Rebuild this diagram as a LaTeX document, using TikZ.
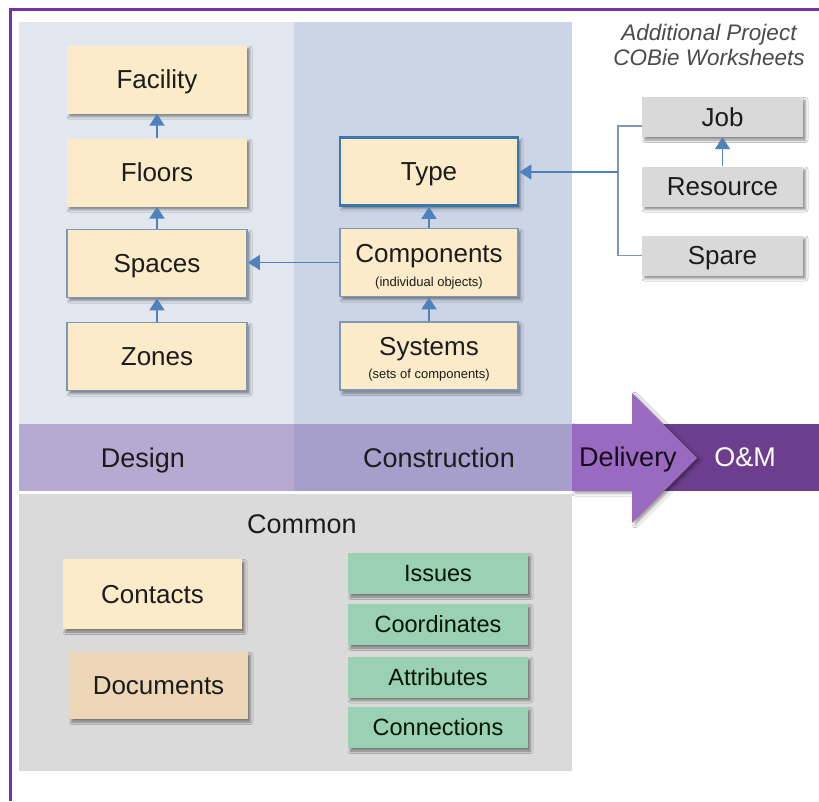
\documentclass[tikz,border=0pt]{standalone}
\usepackage{fontspec}
\setmainfont{Liberation Sans}
\usetikzlibrary{arrows.meta,shadows.blur}

\definecolor{framepurple}{HTML}{7432A8}
\definecolor{designpanel}{HTML}{E1E6EF}
\definecolor{constrpanel}{HTML}{CCD5E5}
\definecolor{designband}{HTML}{B6AAD2}
\definecolor{constrband}{HTML}{A79FCB}
\definecolor{deliverypurple}{HTML}{9A69C0}
\definecolor{ompurple}{HTML}{6E3E8E}
\definecolor{commonpanel}{HTML}{DADADA}
\definecolor{creamfill}{HTML}{FCEBC9}
\definecolor{tanfill}{HTML}{EDD7B7}
\definecolor{greyfill}{HTML}{D9D9D9}
\definecolor{greenfill}{HTML}{9AD0B4}
\definecolor{edgeblue}{HTML}{7F97B6}
\definecolor{typeblue}{HTML}{3B76B0}
\definecolor{arrowblue}{HTML}{4F81BD}
\definecolor{inkdark}{HTML}{1C1C1C}
\definecolor{notegrey}{HTML}{4A4A4A}

\newcommand{\subnotefont}{\fontsize{13}{14}\selectfont}

\tikzset{
  boxbase/.style={rectangle, inner sep=0pt, align=center, text=inkdark,
    font=\fontsize{26}{28}\selectfont,
    blur shadow={shadow xshift=2.5pt, shadow yshift=-3pt,
      shadow blur radius=2.5pt, shadow opacity=45}},
  capfit/.style={text height=#1, text depth=0pt},
  creambox/.style={boxbase, fill=creamfill, minimum width=180pt, minimum height=68pt},
  edged/.style={draw=edgeblue, line width=1.8pt},
  typeedge/.style={draw=typeblue, line width=2.8pt},
  greybox/.style={boxbase, capfit=18.6pt, fill=greyfill, minimum width=161pt, minimum height=40pt},
  greenbox/.style={boxbase, capfit=16.8pt, fill=greenfill, minimum width=180pt, minimum height=41pt,
    font=\fontsize{23.5}{25}\selectfont, text=black!85!green!60!black},
  bandlabel/.style={font=\fontsize{27}{29}\selectfont, text=inkdark, capfit=19.3pt, inner sep=0pt},
  conn/.style={draw=arrowblue, line width=1.8pt, -{Triangle[width=15pt,length=12pt]}},
  wire/.style={draw=edgeblue, line width=1.6pt},
}

\begin{document}
\begin{tikzpicture}[x=1pt, y=-1pt]
\useasboundingbox (0,0) rectangle (819,801);
\fill[white] (0,0) rectangle (819,801);

% phase panels
\fill[designpanel] (19,22) rectangle (294,424);
\fill[constrpanel] (294,22) rectangle (572,424);

% phase band
\fill[designband] (19,424) rectangle (294,491);
\fill[constrband] (294,424) rectangle (572,491);
\fill[ompurple] (640,424) rectangle (819,491);
\fill[deliverypurple, blur shadow={shadow xshift=3pt, shadow yshift=-2pt,
      shadow blur radius=3pt, shadow opacity=40}]
  (572,424) -- (632,424) -- (632,393) -- (697,458) -- (632,523) -- (632,491) -- (572,491) -- cycle;

% common panel
\fill[commonpanel] (19,494) rectangle (572,771);

% frame
\draw[framepurple, line width=3pt] (10,801) -- (10,9) -- (819,9);

% band labels
\node[bandlabel] (design) at (143,458) {Design};
\node[bandlabel] (constr) at (439,458) {Construction};
\node[bandlabel, text=black!80!ompurple] (deliv) at (628,457) {Delivery};
\node[bandlabel, text=white] (om) at (745,457) {O\&M};

% design column
\node[creambox, capfit=18.6pt] (facility) at (157,79.5) {Facility};
\node[creambox, capfit=18.6pt] (floors) at (157,172.5) {Floors};
\node[creambox, capfit=18.6pt, edged] (spaces) at (157,263.5) {Spaces};
\node[creambox, capfit=18.6pt, edged] (zones) at (157,356.5) {Zones};

% construction column
\node[creambox, capfit=18.6pt, typeedge, minimum width=178pt] (type) at (429,171.5) {Type};
\node[creambox, edged, minimum width=178pt] (comp) at (429,262.5)
  {\rule{0pt}{26pt}Components\\[-4pt]{\subnotefont (individual objects)}};
\node[creambox, edged, minimum width=178pt] (sys) at (429,356)
  {\rule{0pt}{25pt}Systems\\[-5pt]{\subnotefont (sets of components)}};

% additional worksheets
\node[font=\fontsize{22.5}{25}\selectfont\itshape, text=notegrey, align=center]
  (addl) at (709,44.5) {Additional Project\\COBie Worksheets};
\node[greybox] (job) at (722.5,117) {Job};
\node[greybox] (resource) at (722.5,186.5) {Resource};
\node[greybox] (spare) at (722.5,255.5) {Spare};

% common worksheets
\node[bandlabel] (common) at (302,523.5) {Common};
\node[boxbase, capfit=18.6pt, fill=creamfill, minimum width=179pt, minimum height=70pt] (contacts) at (152.5,594) {Contacts};
\node[boxbase, capfit=18.6pt, fill=tanfill, minimum width=179pt, minimum height=67pt] (documents) at (158.5,685.5) {Documents};
\node[greenbox] (issues) at (438,573.5) {Issues};
\node[greenbox] (coords) at (438,624.5) {Coordinates};
\node[greenbox] (attrs) at (438,677) {Attributes};
\node[greenbox] (conns) at (438,727.5) {Connections};

% connectors
\draw[conn] (floors.north) -- (facility.south);
\draw[conn] (spaces.north) -- (floors.south);
\draw[conn] (zones.north) -- (spaces.south);
\draw[conn] (comp.north) -- (type.south);
\draw[conn] (sys.north) -- (comp.south);
\draw[conn] (comp.west) -- (comp.west -| spaces.east);
\draw[conn, line width=1.4pt] (resource.north) -- (job.south);

\coordinate (bt) at (618,126);
\coordinate (bm) at (618,172);
\draw[wire] (job.west |- bt) -- (bt) -- (spare.west -| bt) -- (spare.west);
\draw[conn] (bm) -- (type.east |- bm);
\end{tikzpicture}
\end{document}
